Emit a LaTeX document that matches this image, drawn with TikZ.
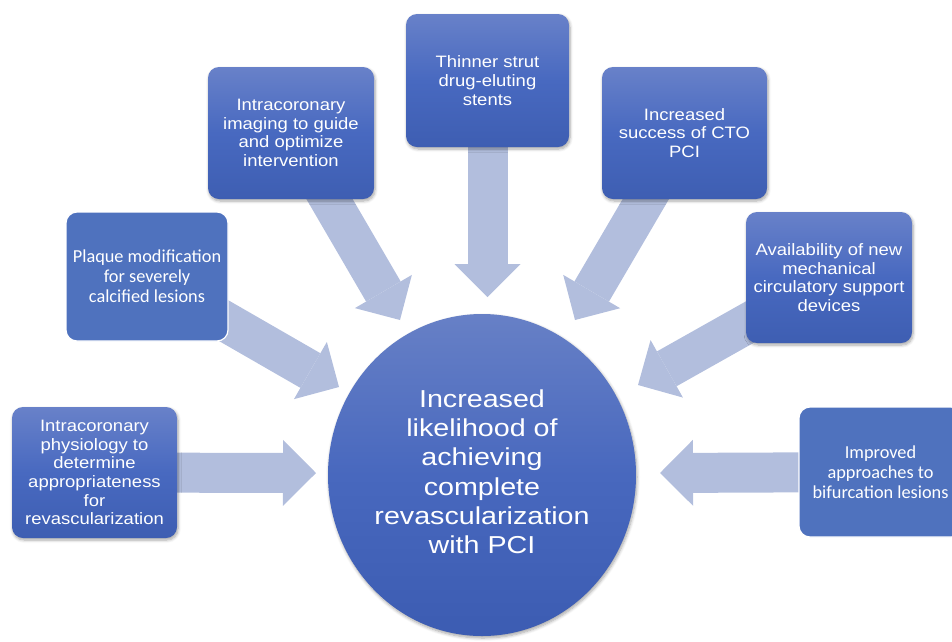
\documentclass[tikz,border=0pt]{standalone}
\usepackage{fontspec}
\usetikzlibrary{arrows.meta,backgrounds,shapes.geometric,shadows.blur}
\newfontfamily\boxfont[FakeStretch=1.12]{Liberation Sans}
\newfontfamily\hubfont[FakeStretch=1.17]{Liberation Sans}
\newfontfamily\calfont{Carlito}
\definecolor{arrowfill}{RGB}{178,190,221}
\definecolor{flatblue}{RGB}{79,114,190}
\definecolor{gradtop}{RGB}{104,129,201}
\definecolor{gradmid}{RGB}{72,105,192}
\definecolor{gradbot}{RGB}{62,94,178}
\definecolor{hubtop}{RGB}{103,128,198}
\definecolor{hubmid}{RGB}{72,104,190}
\definecolor{hubbot}{RGB}{60,92,178}
\tikzset{
  softshadow/.style={blur shadow={shadow xshift=1pt, shadow yshift=-2pt,
      shadow blur radius=3pt, shadow blur steps=6, shadow opacity=35}},
  gradbox/.style={rectangle, rounded corners=11pt, inner sep=0pt,
      top color=gradtop, bottom color=gradbot, middle color=gradmid,
      text=white, align=center, softshadow,
      font=\boxfont\fontsize{16.5}{18.6}\selectfont},
  flatbox/.style={rectangle, rounded corners=11pt, inner sep=0pt,
      fill=flatblue, draw=white, line width=1.2pt,
      text=white, align=center,
      font=\calfont\fontsize{18.3}{19.8}\selectfont},
  hub/.style={ellipse, inner sep=0pt, minimum width=308pt, minimum height=322pt,
      top color=hubtop, bottom color=hubbot, middle color=hubmid,
      text=white, align=center, softshadow, text depth=7pt,
      font=\hubfont\fontsize{24.5}{29.3}\selectfont},
  bigarrow/.style={draw=arrowfill, line width=40pt,
      -{Triangle[length=33pt,width=66pt,line width=0pt,fill=arrowfill]}}
}
\begin{document}
\begin{tikzpicture}[x=1pt,y=-1pt]
  \useasboundingbox (0,0) rectangle (952,641);

  % centre
  \node[hub] (hub) at (482,475)
    {Increased\\likelihood of\\achieving\\complete\\revascularization\\with PCI};

  % contributing factors
  \node[gradbox, minimum width=165pt, minimum height=131pt] (physio) at (94.5,472.5)
    {Intracoronary\\physiology to\\determine\\appropriateness\\for\\revascularization};
  \node[flatbox, minimum width=162pt, minimum height=129pt] (plaque) at (147,276.5)
    {Plaque modification\\for severely\\calcified lesions};
  \node[gradbox, minimum width=166pt, minimum height=132pt] (imaging) at (291,133)
    {Intracoronary\\imaging to guide\\and optimize\\intervention};
  \node[gradbox, minimum width=163pt, minimum height=133pt] (stents) at (487.5,80.5)
    {Thinner strut\\drug-eluting\\stents};
  \node[gradbox, minimum width=165pt, minimum height=132pt] (cto) at (684.5,133)
    {Increased\\success of CTO\\PCI};
  \node[gradbox, minimum width=166pt, minimum height=131pt] (mcs) at (829,277.5)
    {Availability of new\\mechanical\\circulatory support\\devices};
  \node[flatbox, minimum width=163pt, minimum height=130pt] (bifurc) at (880.5,472)
    {Improved\\approaches to\\bifurcation lesions};

  % arrow tips just outside the centre
  \coordinate (tphysio)  at (316,473);
  \coordinate (tplaque)  at (339,387);
  \coordinate (timaging) at (400,320);
  \coordinate (tstents)  at (487.5,297);
  \coordinate (tcto)     at (575,320);
  \coordinate (tmcs)     at (638,385);
  \coordinate (tbifurc)  at (660,473);

  \begin{scope}[on background layer]
    \draw[bigarrow] (physio.center)  -- (tphysio);
    \draw[bigarrow] (plaque.center)  -- (tplaque);
    \draw[bigarrow] (imaging.center) -- (timaging);
    \draw[bigarrow] (stents.center)  -- (tstents);
    \draw[bigarrow] (cto.center)     -- (tcto);
    \draw[bigarrow] (mcs.center)     -- (tmcs);
    \draw[bigarrow] (bifurc.center)  -- (tbifurc);
  \end{scope}
\end{tikzpicture}
\end{document}
